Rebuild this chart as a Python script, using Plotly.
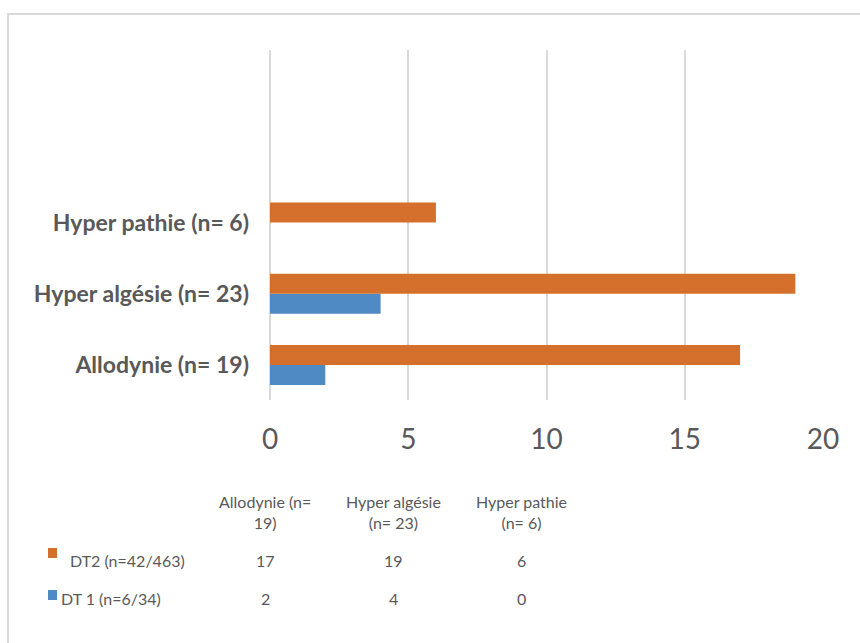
import plotly.graph_objects as go

# Data
categories = ["Allodynie (n= 19)", "Hyper algésie (n= 23)", "Hyper pathie (n= 6)"]
table_headers = ["Allodynie (n=<br>19)", "Hyper algésie<br>(n= 23)", "Hyper pathie<br>(n= 6)"]
series_names = ["DT2 (n=42/463)", "DT 1 (n=6/34)"]
dt2_values = [17, 19, 6]
dt1_values = [2, 4, 0]
x_ticks = [0, 5, 10, 15, 20]

ORANGE = "#D4702C"
BLUE = "#4F8AC4"
TEXT = "#595959"
GRID = "#D9D9D9"
FONT = "Lato, 'Open Sans', sans-serif"

W, H = 860, 643
L, R, T, B = 270, 37, 50, 243
PW, PH = W - L - R, H - T - B


def px(x):
    return (x - L) / PW


def py(y):
    return (H - B - y) / PH


fig = go.Figure()
fig.add_trace(go.Bar(y=categories, x=dt1_values, orientation="h", name=series_names[1],
                     marker=dict(color=BLUE, line=dict(width=0))))
fig.add_trace(go.Bar(y=categories, x=dt2_values, orientation="h", name=series_names[0],
                     marker=dict(color=ORANGE, line=dict(width=0))))

fig.update_layout(
    width=W, height=H,
    margin=dict(l=L, r=R, t=T, b=B),
    paper_bgcolor="white", plot_bgcolor="white",
    barmode="group", bargap=0.44, bargroupgap=0,
    showlegend=False,
    font=dict(family=FONT, color=TEXT),
)
fig.update_xaxes(range=[0, 20], tickvals=x_ticks, showgrid=True, gridcolor=GRID, gridwidth=1.5,
                 zeroline=True, zerolinecolor=GRID, zerolinewidth=1.5, showline=False,
                 ticks="", tickfont=dict(size=28, color=TEXT), ticklabelstandoff=20)
fig.update_yaxes(type="category", range=[-0.49, 4.42], showgrid=False, zeroline=False,
                 showline=False, ticks="", ticklabelstandoff=20,
                 tickfont=dict(size=23, color=TEXT, family=FONT, weight="bold"))

shapes = []
# Outer frame
shapes.append(dict(type="rect", xref="paper", yref="paper", x0=px(8), x1=px(900), y0=py(700), y1=py(14),
                   line=dict(color=GRID, width=2), fillcolor="rgba(0,0,0,0)", layer="below"))
# Legend keys in the data table
shapes.append(dict(type="rect", xref="paper", yref="paper", x0=px(48), x1=px(57), y0=py(558), y1=py(548),
                   line=dict(width=0), fillcolor=ORANGE))
shapes.append(dict(type="rect", xref="paper", yref="paper", x0=px(48), x1=px(57), y0=py(600), y1=py(590),
                   line=dict(width=0), fillcolor=BLUE))
fig.update_layout(shapes=shapes)


def note(x, y, text, size=16, xanchor="center"):
    return dict(x=px(x), y=py(y), xref="paper", yref="paper", text=text, showarrow=False,
                xanchor=xanchor, yanchor="middle", align="center", font=dict(size=size, color=TEXT))


annotations = []
col_x = [265, 393, 521]
for cx, head, v2, v1 in zip(col_x, table_headers, dt2_values, dt1_values):
    annotations.append(note(cx, 512, head))
    annotations.append(note(cx, 560, str(v2)))
    annotations.append(note(cx, 598, str(v1)))
annotations.append(note(68, 560, series_names[0], size=16, xanchor="left"))
annotations.append(note(59, 598, series_names[1], size=16, xanchor="left"))
fig.update_layout(annotations=annotations)

fig.write_html("out.html")
